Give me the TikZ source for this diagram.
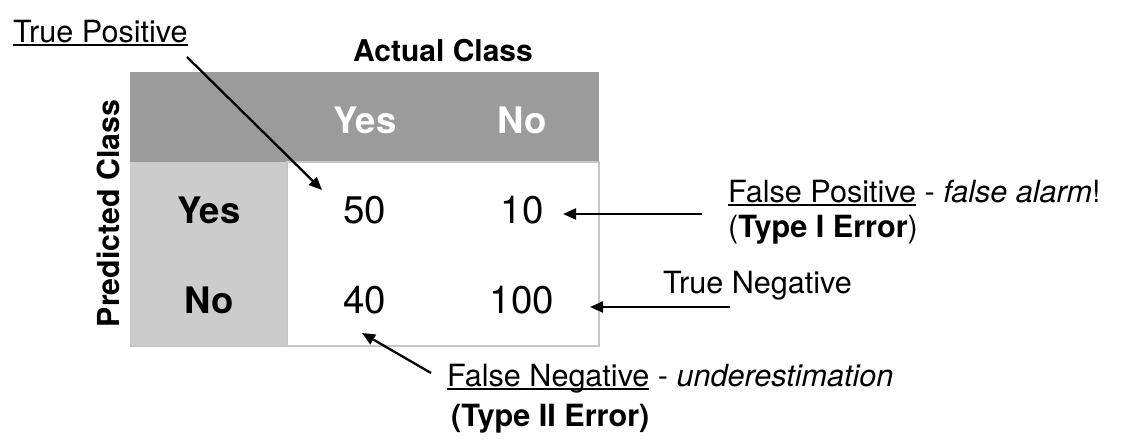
\documentclass[tikz,border=0pt]{standalone}
\usepackage{fontspec}
\setmainfont{TeX Gyre Heros}
\usetikzlibrary{arrows.meta}
\definecolor{hdrgray}{HTML}{9B9B9B}
\definecolor{colgray}{HTML}{CCCCCC}
\definecolor{bordergray}{HTML}{C6C6C6}
\newcommand\ulx[1]{\setbox0=\hbox{#1}\rlap{\rule[-3.2pt]{\wd0}{1.8pt}}\box0\relax}
\tikzset{
  lbl/.style={inner sep=0pt, anchor=base west, font=\fontsize{30.6}{36}\selectfont},
  hdr/.style={inner sep=0pt, text=white, font=\fontsize{36.5}{40}\selectfont\bfseries},
  rowh/.style={inner sep=0pt, font=\fontsize{36.5}{40}\selectfont\bfseries},
  cellv/.style={inner sep=0pt, font=\fontsize{38.5}{42}\selectfont},
  ptr/.style={line width=2.3pt, -{Triangle[length=13pt,width=11pt]}},
}
\begin{document}
\begin{tikzpicture}[x=1pt,y=-1pt]
\useasboundingbox[fill=white] (0,0) rectangle (1125,446);
% table
\fill[hdrgray] (130,72) rectangle (599,162);
\fill[colgray] (130,162) rectangle (287,346);
\draw[bordergray, line width=1.4pt, fill=white] (287,162) rectangle (599,346);
\draw[bordergray, line width=1.2pt] (130,346) -- (287,346);
% headers
\node[hdr] (hyes) at (365,120) {Yes};
\node[hdr] (hno) at (522,120) {No};
\node[rowh] (ryes) at (209,210) {Yes};
\node[rowh] (rno) at (209,300) {No};
\node[cellv] (tpv) at (364.5,210.5) {50};
\node[cellv] (fpv) at (522,210.5) {10};
\node[cellv] (fnv) at (364.5,300) {40};
\node[cellv] (tnv) at (522,300) {100};
\node[inner sep=0pt, anchor=base, font=\fontsize{30}{34}\selectfont\bfseries] (actual) at (443,62) {Actual Class};
\node[inner sep=0pt, rotate=90, font=\fontsize{30.3}{34}\selectfont\bfseries] (pred) at (108,213.5) {Predicted Class};
% labels
\node[lbl] (tp) at (13,43) {\ulx{True Positive}};
\node[lbl] (fp) at (728,203) {\ulx{False Positive} - \textit{false alarm}!};
\node[lbl] (fp2) at (728,238) {(\textbf{Type I Error})};
\node[lbl] (tn) at (663,294) {True Negative};
\node[lbl] (fn) at (447,387) {\ulx{False Negative} - \textit{underestimation}};
\node[lbl] (fn2) at (451,426) {\textbf{(Type II Error)}};
% arrow end points
\coordinate (tpA) at (187,57);  \coordinate (tpB) at (322,190);
\coordinate (fpA) at (702,214); \coordinate (fpB) at (563,214);
\coordinate (tnA) at (730,307); \coordinate (tnB) at (590,307);
\coordinate (fnA) at (431,373); \coordinate (fnB) at (362,333);
\draw[ptr] (tpA) -- (tpB);
\draw[ptr] (fpA) -- (fpB);
\draw[ptr] (tnA) -- (tnB);
\draw[ptr] (fnA) -- (fnB);
\end{tikzpicture}
\end{document}
